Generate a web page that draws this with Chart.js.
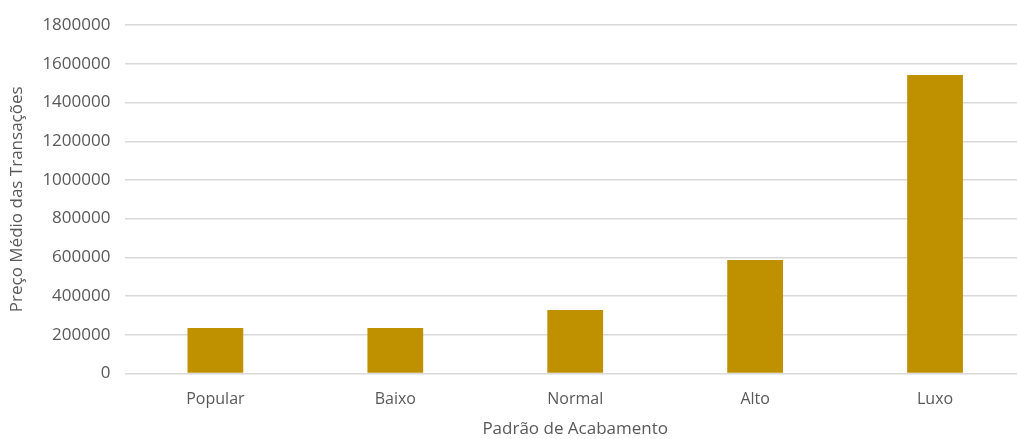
<!DOCTYPE html>
<html>
<head>
<meta charset="utf-8">
<script src="https://cdn.jsdelivr.net/npm/chart.js@4/dist/chart.umd.min.js"></script>
<style>
  html, body { margin: 0; padding: 0; background: #fff; overflow: hidden; }
  #wrap { width: 1025px; height: 439px; }
</style>
</head>
<body>
<div id="wrap"><canvas id="chart"></canvas></div>
<script>
  // dados
  const categorias = ['Popular', 'Baixo', 'Normal', 'Alto', 'Luxo'];
  const precoMedio = [235000, 235000, 328000, 586000, 1542000];
  const yMax = 1800000;
  const yPasso = 200000;

  const corTexto = '#595959';
  const fonte = "'Open Sans', 'Noto Sans', sans-serif";

  const ctx = document.getElementById('chart').getContext('2d');
  new Chart(ctx, {
    type: 'bar',
    data: {
      labels: categorias,
      datasets: [{
        label: 'Preço Médio das Transações',
        data: precoMedio,
        backgroundColor: '#BF9000',
        borderWidth: 0,
        barPercentage: 1,
        categoryPercentage: 0.31
      }]
    },
    options: {
      responsive: true,
      maintainAspectRatio: false,
      animation: false,
      layout: { padding: { top: 7, left: 7, right: 0, bottom: 0 } },
      plugins: {
        legend: { display: false },
        tooltip: { enabled: false }
      },
      scales: {
        x: {
          grid: { display: false },
          border: { display: false },
          ticks: { color: corTexto, font: { family: fonte, size: 16 }, padding: 8 },
          title: {
            display: true,
            text: 'Padrão de Acabamento',
            color: corTexto,
            font: { family: fonte, size: 17 },
            padding: { top: 2, bottom: 0 }
          }
        },
        y: {
          min: 0,
          max: yMax,
          ticks: {
            stepSize: yPasso,
            color: corTexto,
            font: { family: fonte, size: 17 },
            padding: 15,
            callback: (v) => String(v)
          },
          grid: { color: '#D9D9D9', lineWidth: 1.5, drawTicks: false },
          border: { display: false },
          title: {
            display: true,
            text: 'Preço Médio das Transações',
            color: corTexto,
            font: { family: fonte, size: 17 },
            padding: { top: 0, bottom: 0 }
          }
        }
      }
    }
  });
</script>
</body>
</html>
